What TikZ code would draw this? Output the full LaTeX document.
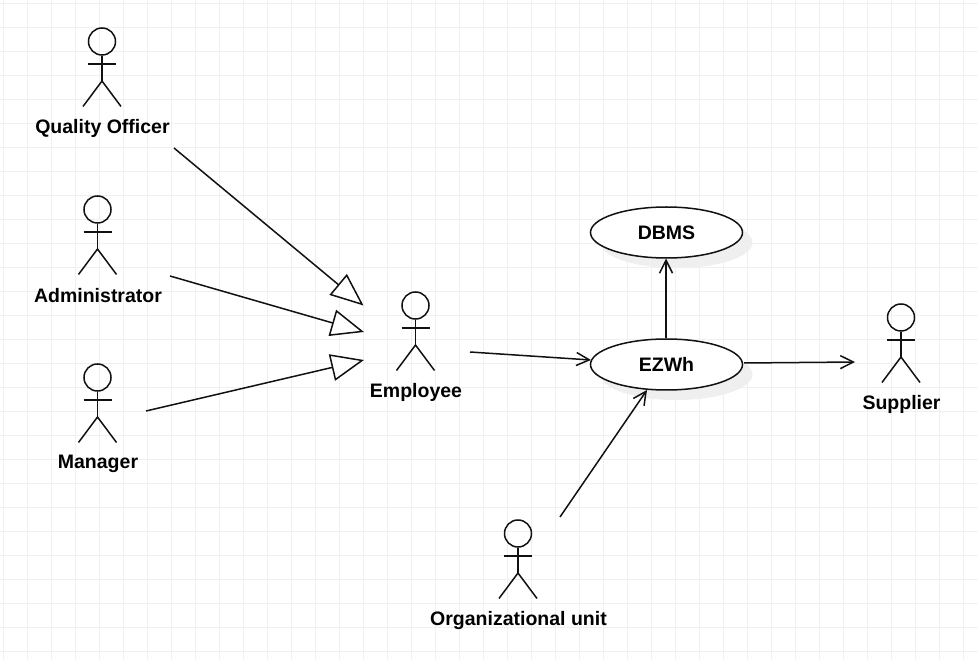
\documentclass[tikz,border=0pt]{standalone}
\usepackage{fontspec}
\setmainfont{Liberation Sans}
\usetikzlibrary{arrows.meta,shapes.geometric}
\definecolor{gridc}{HTML}{F0F0F0}
\definecolor{shadowc}{HTML}{EFEFEF}
\definecolor{inkc}{HTML}{111111}
\tikzset{
  line/.style={draw=inkc,line width=1.5pt},
  gen/.style={line,-{Triangle[length=33pt,width=27pt,fill=white,line width=1.5pt]}},
  dep/.style={line,-{Straight Barb[length=13pt,width=13pt,line width=1.5pt]}},
  usecase/.style={ellipse,draw=inkc,line width=1.5pt,fill=white,minimum width=152pt,minimum height=51pt,inner sep=0pt,font=\fontsize{19.5}{22}\selectfont\bfseries},
  shadowell/.style={ellipse,fill=shadowc,minimum width=152pt,minimum height=51pt,inner sep=0pt},
  actorlabel/.style={font=\fontsize{19.5}{23}\selectfont\bfseries,inner sep=0pt,text=black},
  pics/actor/.style={code={
    \node[circle,draw=inkc,line width=1.5pt,minimum size=27pt,inner sep=0pt] (-head) at (0,0) {};
    \draw[line] (-head.south) -- (0,39.5) coordinate (-hip);
    \draw[line] (-14,22.5) -- (14,22.5);
    \draw[line] (-19,65) -- (-hip) -- (19,65);
    \node[actorlabel] (-label) at (0.5,86.5) {#1};
  }}
}
\begin{document}
\begin{tikzpicture}[x=1pt,y=-1pt]
\useasboundingbox (0,0) rectangle (978,660);
\fill[white] (0,0) rectangle (978,660);
\foreach \i in {0,...,40} \draw[gridc,line width=1pt] ({3.5+24*\i},0) -- ({3.5+24*\i},660);
\foreach \i in {0,...,27} \draw[gridc,line width=1pt] (0,{3.5+24*\i}) -- (978,{3.5+24*\i});

\pic (qo) at (102,41.5) {actor={Quality Officer}};
\pic (ad) at (97.5,209.5) {actor={Administrator}};
\pic (ma) at (97.5,377.5) {actor={Manager}};
\pic (em) at (415.5,305.5) {actor={Employee}};
\pic (su) at (901,317.5) {actor={Supplier}};
\pic (or) at (518,533.5) {actor={Organizational unit}};

\node[shadowell] at (676.5,242.5) {};
\node[shadowell] at (676.5,374.5) {};
\node[usecase] (dbms) at (666.5,232.5) {DBMS};
\node[usecase] (ezwh) at (666.5,364.5) {EZWh};

\coordinate (qoOut) at (174,148);
\coordinate (adOut) at (170,276);
\coordinate (maOut) at (146,411);
\coordinate (emOut) at (470,352);
\coordinate (orOut) at (560,517);
\coordinate (emInA) at (363.5,305.5);
\coordinate (emInB) at (364,332);
\coordinate (emInC) at (364,360);
\coordinate (ezIn) at (591,360);
\coordinate (ezOrIn) at (647,390);
\coordinate (ezUp) at (666,338);
\coordinate (dbDown) at (666,258.5);
\coordinate (ezRight) at (744,363);
\coordinate (suIn) at (855,362);

\draw[gen] (qoOut) -- (emInA);
\draw[gen] (adOut) -- (emInB);
\draw[gen] (maOut) -- (emInC);
\draw[dep] (emOut) -- (ezIn);
\draw[dep] (orOut) -- (ezOrIn);
\draw[dep] (ezUp) -- (dbDown);
\draw[dep] (ezRight) -- (suIn);
\end{tikzpicture}
\end{document}
